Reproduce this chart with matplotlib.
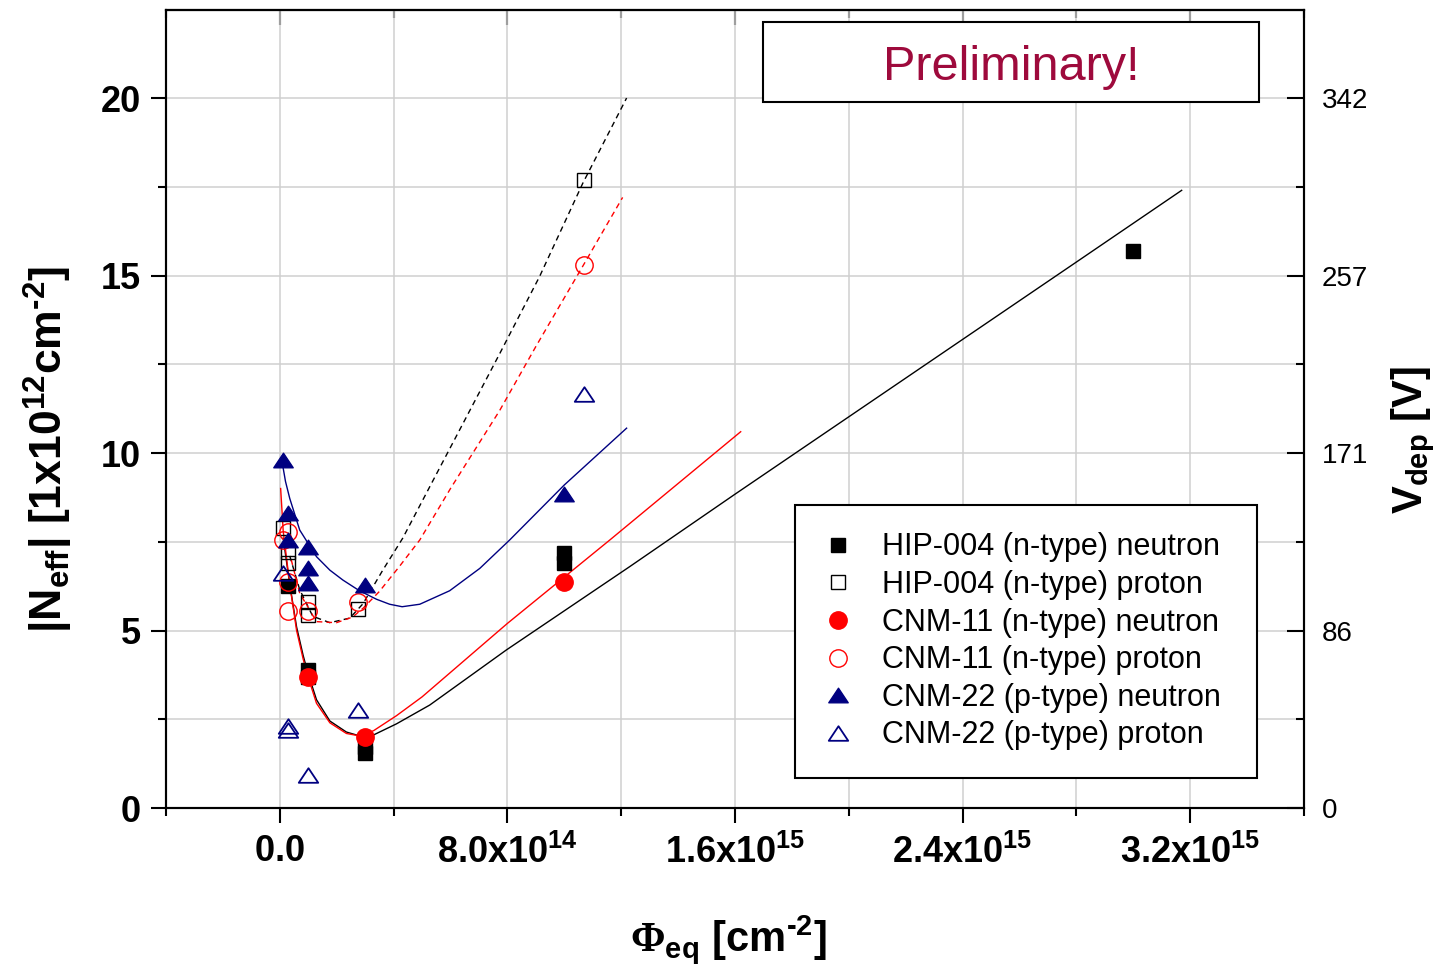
import matplotlib
matplotlib.use('Agg')
import matplotlib.pyplot as plt
import numpy as np
from matplotlib.ticker import FixedLocator, MultipleLocator
from matplotlib.patches import Rectangle
from matplotlib.path import Path

plt.rcParams['font.family'] = ['Liberation Sans', 'DejaVu Sans']
plt.rcParams['mathtext.fontset'] = 'custom'
plt.rcParams['mathtext.rm'] = 'Liberation Sans'
plt.rcParams['mathtext.bf'] = 'Liberation Sans:bold'
plt.rcParams['mathtext.it'] = 'Liberation Sans:italic'
plt.rcParams['mathtext.sf'] = 'Liberation Serif:bold'

E14 = 1e14

# measured points (fluence in cm^-2, |Neff| in 1e12 cm^-3)
hip_n_x = np.array([0.3, 1.0, 1.0, 3.0, 3.0, 10.0, 10.0, 30.0]) * E14
hip_n_y = [6.25, 3.9, 3.7, 1.72, 1.55, 7.17, 6.89, 15.7]

hip_p_x = np.array([0.1, 0.3, 0.3, 1.0, 1.0, 2.75, 10.7]) * E14
hip_p_y = [7.9, 7.2, 6.9, 5.8, 5.45, 5.6, 17.7]

cnm11_n_x = np.array([1.0, 3.0, 10.0]) * E14
cnm11_n_y = [3.7, 2.0, 6.36]

cnm11_p_x = np.array([0.1, 0.3, 0.3, 0.3, 1.0, 2.75, 10.7]) * E14
cnm11_p_y = [7.55, 7.78, 6.37, 5.55, 5.55, 5.79, 15.3]

cnm22_n_x = np.array([0.1, 0.3, 0.3, 1.0, 1.0, 1.0, 3.0, 10.0]) * E14
cnm22_n_y = [9.8, 8.3, 7.55, 7.35, 6.75, 6.35, 6.28, 8.85]

cnm22_p_x = np.array([0.1, 0.3, 0.3, 1.0, 2.75, 10.7]) * E14
cnm22_p_y = [6.61, 2.32, 2.2, 0.93, 2.76, 11.66]

# fit curves
hip_n_fit_x = np.array([0.12, 0.35, 0.59, 0.82, 0.99, 1.29, 1.76, 2.34, 2.81, 3.3, 4.1,
                        5.27, 7.96, 12.3, 16.0, 20.0, 24.0, 28.0, 31.7]) * E14
hip_n_fit_y = [7.6, 6.3, 5.1, 4.3, 3.8, 3.05, 2.45, 2.14, 2.03, 2.06, 2.37,
               2.9, 4.45, 6.8, 8.84, 11.02, 13.2, 15.38, 17.4]

cnm11_n_fit_x = np.array([0.03, 0.12, 0.35, 0.59, 0.82, 0.99, 1.29, 1.76, 2.34, 2.81,
                          3.3, 4.1, 5.0, 8.0, 11.6, 16.2]) * E14
cnm11_n_fit_y = [9.0, 7.8, 6.3, 5.0, 4.2, 3.7, 2.95, 2.4, 2.1, 2.03,
                 2.18, 2.6, 3.13, 5.2, 7.55, 10.6]

hip_p_fit_x = np.array([0.35, 0.7, 1.16, 1.76, 2.46, 2.92, 3.62, 4.32, 5.5, 7.73,
                        9.13, 10.65, 12.19]) * E14
hip_p_fit_y = [7.1, 6.15, 5.4, 5.22, 5.35, 5.75, 6.7, 7.6, 9.4, 12.8,
               14.97, 17.6, 20.0]

cnm11_p_fit_x = np.array([0.4, 0.7, 1.29, 1.99, 2.56, 2.93, 3.5, 4.2, 4.92, 6.0,
                          7.73, 9.0, 10.64, 12.05]) * E14
cnm11_p_fit_y = [7.0, 6.05, 5.25, 5.22, 5.38, 5.63, 6.1, 6.8, 7.55, 9.0,
                 11.2, 13.0, 15.25, 17.2]

cnm22_n_fit_x = np.array([0.07, 0.2, 0.35, 0.70, 1.29, 1.76, 2.22, 2.8, 3.4, 3.86, 4.3,
                          4.92, 5.97, 7.03, 8.08, 10.0, 12.19]) * E14
cnm22_n_fit_y = [9.8, 9.2, 8.72, 7.83, 7.08, 6.7, 6.42, 6.12, 5.88, 5.74, 5.67,
                 5.74, 6.12, 6.75, 7.55, 9.1, 10.7]

xticks = [0.0, 8e14, 1.6e15, 2.4e15, 3.2e15]
xtick_labels = [r'$\mathbf{0.0}$', r'$\mathbf{8.0x10^{14}}$', r'$\mathbf{1.6x10^{15}}$',
                r'$\mathbf{2.4x10^{15}}$', r'$\mathbf{3.2x10^{15}}$']
yticks = [0, 5, 10, 15, 20]
vdep_labels = ['0', '86', '171', '257', '342']

labels = ['HIP-004 (n-type) neutron', 'HIP-004 (n-type) proton',
          'CNM-11 (n-type) neutron', 'CNM-11 (n-type) proton',
          'CNM-22 (p-type) neutron', 'CNM-22 (p-type) proton']

NAVY = '#000080'
tri = Path([(-1, -0.75), (1, -0.75), (0, 0.75), (-1, -0.75)], closed=True)

fig = plt.figure(figsize=(14.54, 9.8), dpi=100)
ax = fig.add_axes([166 / 1454, 172 / 980, 1138 / 1454, 798 / 980])

# fit lines
ax.plot(hip_n_fit_x, hip_n_fit_y, color='black', lw=1.0, zorder=2)
ax.plot(cnm11_n_fit_x, cnm11_n_fit_y, color='red', lw=1.0, zorder=2)
ax.plot(hip_p_fit_x, hip_p_fit_y, color='black', lw=1.0, ls=(0, (4, 3)), zorder=2)
ax.plot(cnm11_p_fit_x, cnm11_p_fit_y, color='red', lw=1.0, ls=(0, (4, 3)), zorder=2)
ax.plot(cnm22_n_fit_x, cnm22_n_fit_y, color=NAVY, lw=1.0, zorder=2)

# markers
h1, = ax.plot(hip_n_x, hip_n_y, 's', ms=10.5, color='black', zorder=3)
h2, = ax.plot(hip_p_x, hip_p_y, 's', ms=10.5, mfc='none', mec='black', mew=1.0, zorder=3)
h3, = ax.plot(cnm11_n_x, cnm11_n_y, 'o', ms=12.5, color='red', zorder=3)
h4, = ax.plot(cnm11_p_x, cnm11_p_y, 'o', ms=12.5, mfc='none', mec='red', mew=1.0, zorder=3)
h5, = ax.plot(cnm22_n_x, cnm22_n_y, marker=tri, ls='none', ms=14, color=NAVY, zorder=3)
h6, = ax.plot(cnm22_p_x, cnm22_p_y, marker=tri, ls='none', ms=14, mfc='none', mec=NAVY,
              mew=1.3, zorder=3)

ax.set_xlim(-4e14, 3.6e15)
ax.set_ylim(0, 22.48)

ax.xaxis.set_major_locator(FixedLocator(xticks))
ax.set_xticklabels(xtick_labels)
ax.xaxis.set_minor_locator(MultipleLocator(4e14))
ax.set_yticks(yticks)
ax.yaxis.set_minor_locator(MultipleLocator(2.5))
for lbl in ax.get_yticklabels():
    lbl.set_fontweight('bold')

ax.tick_params(axis='both', which='major', direction='out', length=11, width=1.5,
               labelsize=26)
ax.tick_params(axis='both', which='minor', direction='out', length=5.5, width=1.5)
ax.tick_params(axis='y', which='both', right=False, pad=7)
ax.tick_params(axis='x', which='both', top=False, pad=8)

ax.grid(which='both', color='#cfcfcf', lw=1.1)
ax.set_axisbelow(True)
for sp in ax.spines.values():
    sp.set_linewidth(1.5)

top = ax.secondary_xaxis('top')
top.xaxis.set_major_locator(FixedLocator(xticks))
top.xaxis.set_minor_locator(MultipleLocator(4e14))
top.tick_params(which='major', direction='in', length=11, width=1.5, labeltop=False)
top.tick_params(which='minor', direction='in', length=5.5, width=1.5)
top.spines['top'].set_linewidth(1.5)

ax2 = ax.twinx()
ax2.set_ylim(ax.get_ylim())
ax2.set_yticks(yticks)
ax2.set_yticklabels(vdep_labels)
ax2.yaxis.set_minor_locator(MultipleLocator(2.5))
ax2.tick_params(which='major', direction='in', length=12, width=1.5, labelsize=20, pad=13)
ax2.tick_params(which='minor', direction='in', length=6, width=1.5)
for sp in ax2.spines.values():
    sp.set_linewidth(1.5)

ax.text(-0.103, 0.449, '$\\mathbf{|N_{eff}|\\ [1x10^{12}cm^{\u20102}]}$',
        transform=ax.transAxes, rotation=90, ha='center', va='center', fontsize=32)
ax.text(1.096, 0.461, r'$\mathbf{V_{dep}\ [V]}$', transform=ax.transAxes,
        rotation=90, ha='center', va='center', fontsize=30)
ax.text(0.494, -0.165, '$\\mathsf{\\Phi}_{\\mathbf{eq}}\\ \\mathbf{[cm^{\u20102}]}$',
        transform=ax.transAxes, ha='center', va='center', fontsize=30)

# "Preliminary!" box
ax2.add_patch(Rectangle((0.5246, 0.8847), 0.4359, 0.1003, transform=ax.transAxes,
                        facecolor='white', edgecolor='black', lw=1.5, zorder=5))
ax2.text(0.7426, 0.928, 'Preliminary!', transform=ax.transAxes, ha='center', va='center',
         fontsize=35, color='#9E0A3C', zorder=6)

leg = ax2.legend([h1, h2, h3, h4, h5, h6], [s + ' ' for s in labels], loc='lower right',
                 bbox_to_anchor=(0.9587, 0.0376), borderaxespad=0, fontsize=22,
                 frameon=True, fancybox=False, framealpha=1, edgecolor='black',
                 handlelength=1.0, handletextpad=0.95, borderpad=0.9, labelspacing=0.25)
leg.get_frame().set_linewidth(1.5)

fig.savefig('out.png', dpi=100)
